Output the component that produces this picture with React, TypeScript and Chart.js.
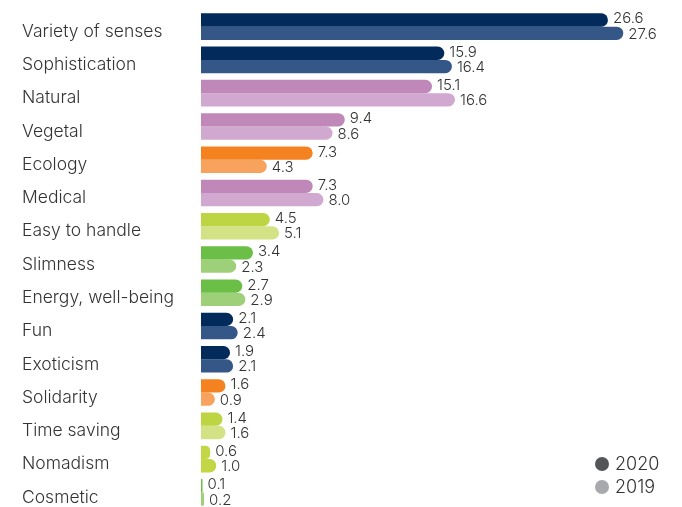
import React, { useEffect, useRef } from "react";
import { Chart, registerables } from "chart.js";

Chart.register(...registerables);

const categories = [
  "Variety of senses",
  "Sophistication",
  "Natural",
  "Vegetal",
  "Ecology",
  "Medical",
  "Easy to handle",
  "Slimness",
  "Energy, well-being",
  "Fun",
  "Exoticism",
  "Solidarity",
  "Time saving",
  "Nomadism",
  "Cosmetic",
];

const seriesNames = ["2020", "2019"];
const values2020 = [26.6, 15.9, 15.1, 9.4, 7.3, 7.3, 4.5, 3.4, 2.7, 2.1, 1.9, 1.6, 1.4, 0.6, 0.1];
const values2019 = [27.6, 16.4, 16.6, 8.6, 4.3, 8.0, 5.1, 2.3, 2.9, 2.4, 2.1, 0.9, 1.6, 1.0, 0.2];

// colour group of each category
const groups = ["navy", "navy", "pink", "pink", "orange", "pink", "lime", "green", "green", "navy", "navy", "orange", "lime", "lime2", "green"];
const colors2020: Record<string, string> = {
  navy: "#022b5c",
  pink: "#c088b8",
  orange: "#f58220",
  lime: "#bdd443",
  lime2: "#c2d646",
  green: "#6bbf47",
};
const colors2019: Record<string, string> = {
  navy: "#355787",
  pink: "#d1a8d0",
  orange: "#f7a35d",
  lime: "#d3e285",
  lime2: "#c2d646",
  green: "#9ed07a",
};
const legendColors = ["#545557", "#a8a9ac"];

const FONT = "Inter, 'Noto Sans', sans-serif";

const valuePlugin = {
  id: "valueLabels",
  afterDatasetsDraw(chart: any) {
    const ctx = chart.ctx;
    ctx.save();
    ctx.font = `300 15px ${FONT}`;
    ctx.fillStyle = "#333333";
    ctx.textBaseline = "middle";
    ctx.textAlign = "left";
    chart.data.datasets.forEach((ds: any, di: number) => {
      const meta = chart.getDatasetMeta(di);
      meta.data.forEach((bar: any, i: number) => {
        const v = ds.data[i] as number;
        ctx.fillText(v.toFixed(1), bar.x + 5, bar.y + (di === 0 ? -1 : 1));
      });
    });
    // legend
    const area = chart.chartArea;
    const lx = area.right - 58;
    const ly = area.bottom - 45;
    ctx.font = `300 18px ${FONT}`;
    seriesNames.forEach((name, i) => {
      const y = ly + i * 23;
      ctx.beginPath();
      ctx.fillStyle = legendColors[i];
      ctx.arc(lx, y, 7, 0, Math.PI * 2);
      ctx.fill();
      ctx.fillStyle = "#333333";
      ctx.fillText(name, lx + 13, y + 1);
    });
    ctx.restore();
  },
};

export default function App() {
  const ref = useRef<HTMLCanvasElement | null>(null);
  useEffect(() => {
    if (!ref.current) return;
    const chart = new Chart(ref.current, {
      type: "bar",
      data: {
        labels: categories,
        datasets: [
          {
            label: seriesNames[0],
            data: values2020,
            backgroundColor: groups.map((g) => colors2020[g]),
          },
          {
            label: seriesNames[1],
            data: values2019,
            backgroundColor: groups.map((g) => colors2019[g]),
          },
        ],
      },
      options: {
        indexAxis: "y",
        animation: false,
        responsive: false,
        maintainAspectRatio: false,
        layout: { padding: { left: 22, right: 22, top: 10, bottom: 0 } },
        datasets: {
          bar: {
            barPercentage: 1,
            categoryPercentage: 0.8,
            borderRadius: 7,
            borderSkipped: "start",
          },
        },
        plugins: {
          legend: { display: false },
          tooltip: { enabled: false },
        },
        scales: {
          x: { display: false, min: 0, max: 30 },
          y: {
            grid: { display: false },
            border: { display: false },
            ticks: {
              color: "#333333",
              font: { family: FONT, size: 17.5, weight: "300" },
              crossAlign: "far",
              padding: 0,
              labelOffset: 5,
              autoSkip: false,
            },
            afterFit(scale: any) {
              scale.width = 179;
              scale.paddingTop = 0;
              scale.paddingBottom = 0;
            },
          },
        },
      } as any,
      plugins: [valuePlugin],
    });
    return () => chart.destroy();
  }, []);
  return (
    <div style={{ position: "fixed", left: 0, top: 0, width: 682, height: 509 }}>
      <canvas ref={ref} width={682} height={509} style={{ display: "block", width: 682, height: 509 }} />
    </div>
  );
}
